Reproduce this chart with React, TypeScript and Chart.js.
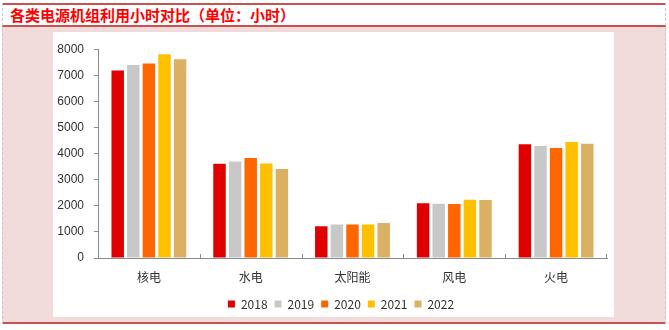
import React, { useEffect, useRef } from "react";
import { Chart, registerables } from "chart.js";

Chart.register(...registerables);

const TITLE = "各类电源机组利用小时对比（单位：小时）";
const categories = ["核电", "水电", "太阳能", "风电", "火电"];
const years = ["2018", "2019", "2020", "2021", "2022"];
const v2018 = [7184, 3613, 1212, 2095, 4361];
const v2019 = [7394, 3697, 1285, 2082, 4293];
const v2020 = [7453, 3827, 1281, 2073, 4216];
const v2021 = [7802, 3622, 1281, 2232, 4448];
const v2022 = [7616, 3412, 1337, 2218, 4379];
const seriesValues = [v2018, v2019, v2020, v2021, v2022];
const colors = ["#E00000", "#C8C8C8", "#FF6600", "#FFC000", "#DBB063"];
const yTicks = [0, 1000, 2000, 3000, 4000, 5000, 6000, 7000, 8000];

const AXIS_COLOR = "#8c8c8c";

const xTickMarks = {
  id: "xTickMarks",
  afterDraw(chart: any) {
    const x = chart.scales.x;
    const ctx = chart.ctx;
    const n = x.ticks.length;
    const w = (x.right - x.left) / n;
    ctx.save();
    ctx.strokeStyle = AXIS_COLOR;
    ctx.lineWidth = 1;
    for (let i = 1; i < n; i++) {
      const px = Math.round(x.left + i * w) + 0.5;
      ctx.beginPath();
      ctx.moveTo(px, x.top);
      ctx.lineTo(px, x.top - 4);
      ctx.stroke();
    }
    const px = Math.round(x.right) - 0.5;
    ctx.beginPath();
    ctx.moveTo(px, x.top);
    ctx.lineTo(px, x.top - 4);
    ctx.stroke();
    ctx.restore();
  },
};

// centre the legend under the plot area rather than the whole canvas
const legendShift = {
  id: "legendShift",
  afterLayout(chart: any) {
    const lg = chart.legend;
    if (!lg) return;
    const shift = 11;
    lg.left += shift;
    lg.right += shift;
    if (lg.legendHitBoxes) lg.legendHitBoxes.forEach((b: any) => (b.left += shift));
  },
};

function BarChart() {
  const ref = useRef<HTMLCanvasElement>(null);
  useEffect(() => {
    if (!ref.current) return;
    const chart = new Chart(ref.current, {
      type: "bar",
      data: {
        labels: categories,
        datasets: years.map((y, i) => ({
          label: y,
          data: seriesValues[i],
          backgroundColor: colors[i],
          borderWidth: 0,
          categoryPercentage: 0.766,
          barPercentage: 0.8,
        })),
      },
      options: {
        animation: false,
        responsive: false,
        maintainAspectRatio: false,
        layout: { padding: { top: 4, right: 7, left: 0, bottom: 5 } },
        plugins: {
          tooltip: { enabled: false },
          legend: {
            position: "bottom",
            labels: {
              boxWidth: 7,
              boxHeight: 7,
              padding: 7,
              color: "#333",
              font: { family: "'Noto Sans CJK SC', 'Liberation Sans', sans-serif", size: 12 },
            },
          },
        },
        scales: {
          x: {
            grid: { display: false, drawTicks: false },
            border: { display: true, color: AXIS_COLOR, width: 1 },
            ticks: {
              padding: 12,
              color: "#333",
              font: { family: "'Noto Sans CJK SC', sans-serif", size: 12 },
            },
            afterFit(scale: any) {
              scale.height = 33;
            },
          },
          y: {
            min: 0,
            max: 8000,
            afterBuildTicks(scale: any) {
              scale.ticks = yTicks.map((v) => ({ value: v }));
            },
            grid: {
              drawOnChartArea: false,
              drawTicks: true,
              tickLength: 4,
              color: AXIS_COLOR,
            },
            border: { display: true, color: AXIS_COLOR, width: 1 },
            ticks: {
              padding: 10,
              color: "#333",
              font: { family: "'Liberation Sans', Arial, sans-serif", size: 12 },
              callback: (v: any) => String(v),
            },
            afterFit(scale: any) {
              scale.width = 45;
            },
          },
        },
      },
      plugins: [xTickMarks, legendShift],
    } as any);
    return () => chart.destroy();
  }, []);
  return <canvas ref={ref} width={561} height={293} style={{ display: "block", width: 561, height: 293 }} />;
}

export default function App() {
  const red = "#C9514F";
  return (
    <div style={{ position: "absolute", left: 0, top: 0, width: 669, height: 330, background: "#fff", overflow: "hidden" }}>
      <div style={{ position: "absolute", left: 2, top: 3, width: 664, height: 2, background: red }} />
      <div
        style={{
          position: "absolute",
          left: 10,
          top: 5,
          height: 20,
          lineHeight: "20px",
          fontFamily: "'Noto Sans CJK SC', sans-serif",
          fontSize: 15,
          fontWeight: 700,
          color: "#FF0000",
          whiteSpace: "nowrap",
        }}
      >
        {TITLE}
      </div>
      <div style={{ position: "absolute", left: 2, top: 25, width: 664, height: 2, background: red }} />
      <div style={{ position: "absolute", left: 2, top: 27, width: 664, height: 295, background: "#F2DCDB" }} />
      <div style={{ position: "absolute", left: 2, top: 322, width: 664, height: 2, background: red }} />
      <div style={{ position: "absolute", left: 2, top: 3, width: 0, height: 321, borderLeft: "1px dashed #c8c8c8" }} />
      <div style={{ position: "absolute", left: 665, top: 3, width: 0, height: 321, borderLeft: "1px dashed #c8c8c8" }} />
      <div style={{ position: "absolute", left: 53, top: 32, width: 561, height: 285, background: "#fff" }} />
      <div style={{ position: "absolute", left: 53, top: 32, width: 561, height: 293 }}>
        <BarChart />
      </div>
    </div>
  );
}
